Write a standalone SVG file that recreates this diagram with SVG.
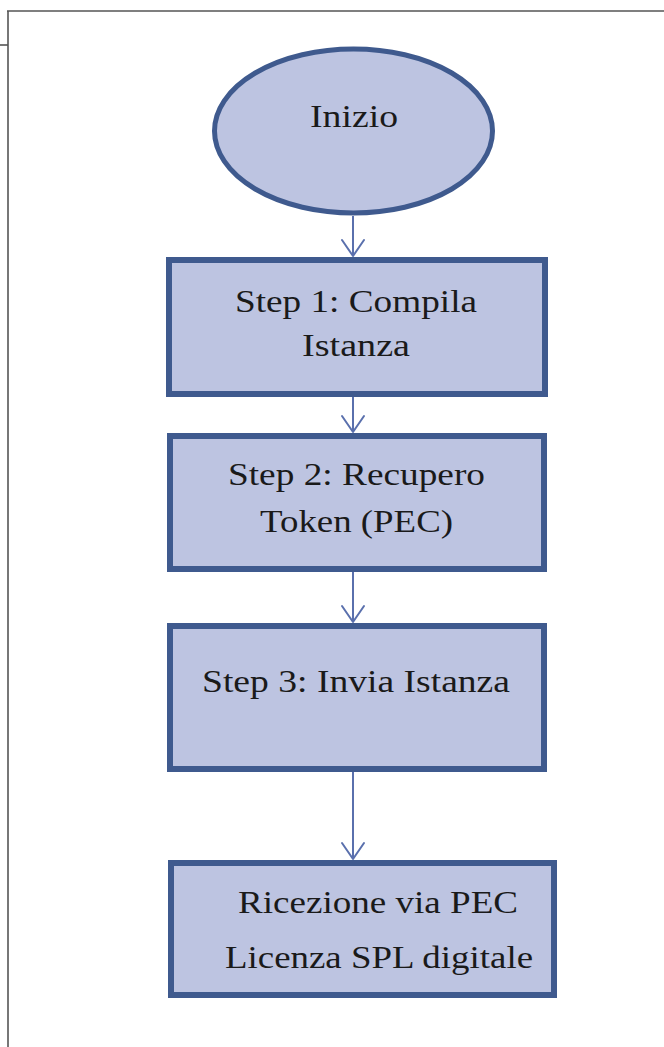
<svg xmlns="http://www.w3.org/2000/svg" width="664" height="1047" viewBox="0 0 664 1047">
<style>
.frame{stroke:#555;stroke-width:1.6;fill:none}
.node{fill:#bdc4e1;stroke:#3f5a8e;stroke-width:6}
.lbl{font-family:"Liberation Serif","Times New Roman",serif;font-size:32px;fill:#1a1a1a;text-anchor:middle}
.edge{stroke:#5a70ad;stroke-width:2;fill:none}
.head{stroke:#5a70ad;stroke-width:2;fill:none;stroke-linecap:round;stroke-linejoin:round}
</style>
<rect width="664" height="1047" fill="#ffffff"/>
<g id="frame">
<line class="frame" x1="7" y1="11" x2="664" y2="11"/>
<line class="frame" x1="8" y1="11" x2="8" y2="1047"/>
<line class="frame" x1="0" y1="45" x2="8" y2="45"/>
</g>
<g id="connectors">
<line class="edge" x1="353" y1="216" x2="353" y2="256"/>
<polyline class="head" points="342,240 353,256 364,240"/>
<line class="edge" x1="353" y1="397" x2="353" y2="432"/>
<polyline class="head" points="342,416 353,432 364,416"/>
<line class="edge" x1="353" y1="572" x2="353" y2="622"/>
<polyline class="head" points="342,606 353,622 364,606"/>
<line class="edge" x1="353" y1="772" x2="353" y2="859"/>
<polyline class="head" points="342,843 353,859 364,843"/>
</g>
<g id="n-inizio">
<ellipse class="node" style="stroke-width:5" cx="353.5" cy="131" rx="139" ry="82"/>
<text class="lbl" x="354" y="127" textLength="88" lengthAdjust="spacingAndGlyphs">Inizio</text>
</g>
<g id="n-step1">
<rect class="node" x="169" y="260" width="376" height="134"/>
<text class="lbl" x="356" y="312" textLength="242" lengthAdjust="spacingAndGlyphs">Step 1: Compila</text>
<text class="lbl" x="356" y="356" textLength="108" lengthAdjust="spacingAndGlyphs">Istanza</text>
</g>
<g id="n-step2">
<rect class="node" x="170" y="436" width="374" height="133"/>
<text class="lbl" x="356.5" y="485" textLength="257" lengthAdjust="spacingAndGlyphs">Step 2: Recupero</text>
<text class="lbl" x="356.5" y="532" textLength="193" lengthAdjust="spacingAndGlyphs">Token (PEC)</text>
</g>
<g id="n-step3">
<rect class="node" x="170" y="626" width="374" height="143"/>
<text class="lbl" x="356" y="692" textLength="308" lengthAdjust="spacingAndGlyphs">Step 3: Invia Istanza</text>
</g>
<g id="n-ricezione">
<rect class="node" x="171" y="863" width="383" height="132"/>
<text class="lbl" x="378" y="913" textLength="280" lengthAdjust="spacingAndGlyphs">Ricezione via PEC</text>
<text class="lbl" x="379" y="968" textLength="308" lengthAdjust="spacingAndGlyphs">Licenza SPL digitale</text>
</g>
</svg>
